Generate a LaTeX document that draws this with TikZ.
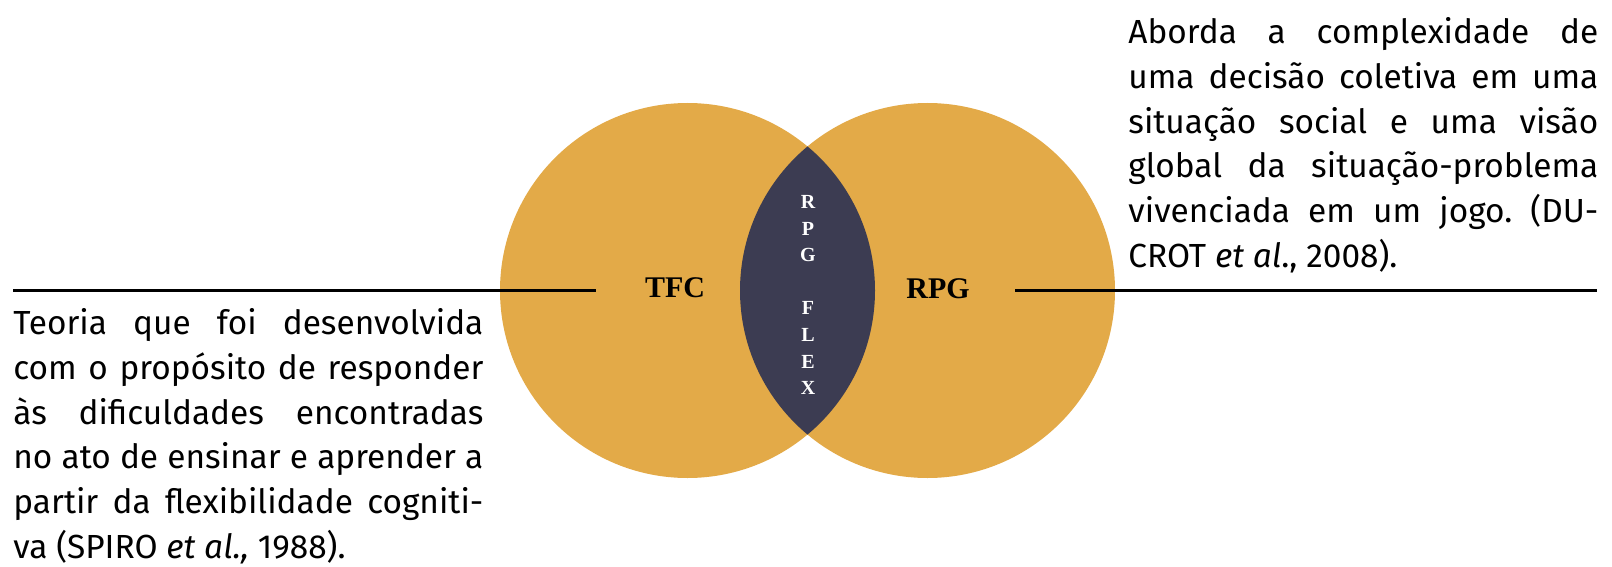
\documentclass[tikz,border=0pt]{standalone}
\usepackage{fontspec}
\setmainfont{Fira Sans}
\newfontfamily\tagfont{Liberation Serif}
\definecolor{venngold}{RGB}{227,170,72}
\definecolor{lensnavy}{RGB}{60,60,82}
\frenchspacing

\begin{document}
\begin{tikzpicture}[x=0.5pt, y=-0.5pt,
  rule/.style={line width=1.5pt},
  bubble/.style={fill=venngold},
  tag/.style={font=\tagfont\bfseries\fontsize{15pt}{17pt}\selectfont, inner sep=0pt},
  lenstag/.style={font=\tagfont\bfseries\fontsize{10pt}{13.3pt}\selectfont, text=white,
    align=center, inner sep=0pt},
  blurb/.style={font=\fontsize{16.7pt}{22.4pt}\selectfont, text width=235pt,
    align=justify, inner sep=0pt, anchor=north west}]
  \useasboundingbox (0,0) rectangle (1612,567);
  % two circles, r = 187.5, centres 240 apart
  \coordinate (T) at (687.5,290.5);
  \coordinate (R) at (927.5,290.5);
  \fill[bubble] (T) circle[radius=187.5];
  \fill[bubble] (R) circle[radius=187.5];
  \begin{scope}
    \clip (T) circle[radius=187.5];
    \fill[lensnavy] (R) circle[radius=187.5];
  \end{scope}

  \node[tag] (tfc) at (675,288) {TFC};
  \node[tag] (rpg) at (938,289) {RPG};
  \node[lenstag] (flex) at (808,295) {R\\P\\G\\~\\F\\L\\E\\X};

  % side texts
  \node[blurb] (left) at (13,308) {\hyphenpenalty=10000
    Teoria que foi desenvolvida\linebreak
    com o propósito de responder\linebreak
    às dificuldades encontradas\linebreak
    no ato de ensinar e aprender a\linebreak
    partir da flexibilidade cogniti-\linebreak
    va (SPIRO \textit{et al.,} 1988).};
  \node[blurb] (right) at (1128,17) {\hyphenpenalty=10000
    Aborda a complexidade de\linebreak
    uma decisão coletiva em uma\linebreak
    situação social e uma visão\linebreak
    global da situação-problema\linebreak
    vivenciada em um jogo. (DU-\linebreak
    CROT \textit{et al}., 2008).};

  \coordinate (L1) at (13,290);
  \coordinate (L2) at (596,290);
  \coordinate (R1) at (1015,290);
  \coordinate (R2) at (1597,290);
  \draw[rule] (L1) -- (L2);
  \draw[rule] (R1) -- (R2);
\end{tikzpicture}
\end{document}
